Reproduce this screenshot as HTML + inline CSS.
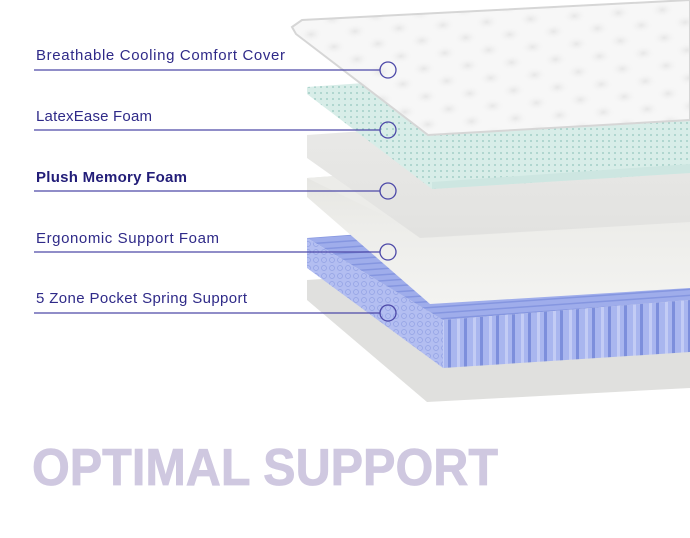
<!DOCTYPE html>
<html><head><meta charset="utf-8"><style>
html,body{margin:0;padding:0;background:#fff;width:690px;height:538px;overflow:hidden}
svg{display:block}
</style></head><body>
<svg width="690" height="538" viewBox="0 0 690 538" xmlns="http://www.w3.org/2000/svg">
<defs>
<pattern id="dots" width="6" height="6" patternUnits="userSpaceOnUse"><rect width="6" height="6" fill="#d8ede8"/><circle cx="3" cy="3" r="0.9" fill="#93c6bd"/></pattern>
<pattern id="spr" width="16" height="60" patternUnits="userSpaceOnUse"><rect width="16" height="60" fill="#a9b6ef"/><rect x="0" width="3" height="60" fill="#7d8fdc"/><rect x="9" width="3" height="60" fill="#c3ccf5"/></pattern>
<pattern id="sprl" width="8" height="8" patternUnits="userSpaceOnUse"><rect width="8" height="8" fill="#b3bef1"/><circle cx="4" cy="4" r="2.5" fill="none" stroke="#93a2e4" stroke-width="0.7"/></pattern>
<pattern id="sprt" width="10" height="6" patternUnits="userSpaceOnUse" patternTransform="rotate(-4)"><rect width="10" height="6" fill="#9fadeb"/><rect width="10" height="1.5" fill="#8596e0"/></pattern>
<linearGradient id="mem" x1="0" y1="0" x2="0" y2="1"><stop offset="0" stop-color="#eaeae8"/><stop offset="1" stop-color="#e2e2e0"/></linearGradient>
<linearGradient id="erg" x1="0" y1="0" x2="0" y2="1"><stop offset="0" stop-color="#e2e2de"/><stop offset="0.5" stop-color="#ededea"/><stop offset="1" stop-color="#f3f3f1"/></linearGradient>
<radialGradient id="tuft" cx="0.5" cy="0.5" r="0.5"><stop offset="0" stop-color="#e6e6e6"/><stop offset="1" stop-color="#f7f7f7" stop-opacity="0"/></radialGradient>
<pattern id="tufts" width="44" height="28" patternUnits="userSpaceOnUse" patternTransform="rotate(-4)"><rect width="44" height="28" fill="#f7f7f7"/><ellipse cx="22" cy="14" rx="12" ry="8" fill="url(#tuft)"/><ellipse cx="0" cy="0" rx="12" ry="8" fill="url(#tuft)"/><ellipse cx="44" cy="28" rx="12" ry="8" fill="url(#tuft)"/><ellipse cx="0" cy="28" rx="12" ry="8" fill="url(#tuft)"/><ellipse cx="44" cy="0" rx="12" ry="8" fill="url(#tuft)"/></pattern>
</defs>
<!-- base -->
<polygon points="307,280 690,255 690,388 427,402 307,300" fill="#e0e0de"/>
<!-- springs -->
<polygon points="307,238 690,210 690,300 443,320" fill="url(#sprt)"/>
<polygon points="307,238 307,268 443,368 443,320" fill="url(#sprl)"/>
<polygon points="443,320 443,368 690,352 690,300" fill="url(#spr)"/>
<!-- ergonomic -->
<polygon points="307,178 690,150 690,288 430,304 307,197" fill="url(#erg)"/>
<polygon points="307,178 430,238 690,222 690,150" fill="#ecece9"/>
<!-- memory -->
<polygon points="307,135 690,108 690,222 420,238 307,158" fill="url(#mem)"/>
<!-- latex -->
<polygon points="307,87 690,60 690,173 432,189 307,94" fill="url(#dots)"/>
<polygon points="432,182 690,164 690,173 432,189" fill="#cde6e1"/>
<!-- cover -->
<polygon points="292,27 302,20 690,0 690,120 428,135 296,34" fill="url(#tufts)" stroke="#d6d6d6" stroke-width="2"/>
<!-- labels -->
<g font-family="Liberation Sans, sans-serif" font-size="15" fill="#2f2a88" lengthAdjust="spacingAndGlyphs">
<text x="36" y="60" textLength="249">Breathable Cooling Comfort Cover</text>
<text x="36" y="121" textLength="116">LatexEase Foam</text>
<text x="36" y="182" textLength="151" font-weight="bold" fill="#221d78">Plush Memory Foam</text>
<text x="36" y="243" textLength="183">Ergonomic Support Foam</text>
<text x="36" y="303" textLength="211">5 Zone Pocket Spring Support</text>
</g>
<g stroke="#4d49a8" stroke-width="1.3" fill="none">
<line x1="34" y1="70" x2="380" y2="70"/><circle cx="388" cy="70" r="8"/>
<line x1="34" y1="130" x2="380" y2="130"/><circle cx="388" cy="130" r="8"/>
<line x1="34" y1="191" x2="380" y2="191"/><circle cx="388" cy="191" r="8"/>
<line x1="34" y1="252" x2="380" y2="252"/><circle cx="388" cy="252" r="8"/>
<line x1="34" y1="313" x2="380" y2="313"/><circle cx="388" cy="313" r="8"/>
</g>
<text x="32" y="485" font-family="Liberation Sans, sans-serif" font-weight="bold" font-size="52" fill="#cfc8e0" textLength="466" lengthAdjust="spacingAndGlyphs" stroke="#cfc8e0" stroke-width="0.8">OPTIMAL SUPPORT</text>
</svg>
</body></html>
